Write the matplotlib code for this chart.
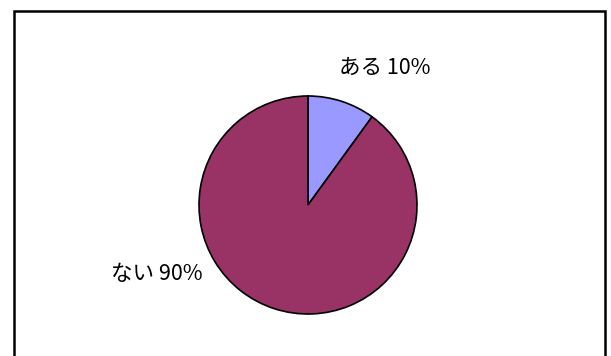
import matplotlib
matplotlib.use("Agg")
from matplotlib import pyplot as plt
from matplotlib.patches import Rectangle

plt.rcParams['font.family'] = ['Noto Sans CJK JP', 'DejaVu Sans']

# data
categories = ["ある", "ない"]
values = [10, 90]
colors = ["#9999FF", "#993366"]

W, H = 611, 356
fig = plt.figure(figsize=(W / 100, H / 100), dpi=100)
fig.patch.set_facecolor("white")

# axes in pixel units so the pie sits where the reference has it
ax = fig.add_axes([0, 0, 1, 1])

cx, cy, r = 308, H - 205, 109
ax.pie(values, colors=colors, startangle=90, counterclock=False,
       center=(cx, cy), radius=r, frame=True,
       wedgeprops=dict(edgecolor="black", linewidth=1.2))
ax.set_xlim(0, W)
ax.set_ylim(0, H)
ax.axis("off")

# labels, placed like the spreadsheet did
label_pos = [(385, H - 68), (157, H - 274)]
for cat, val, (x, y) in zip(categories, values, label_pos):
    ax.text(x, y, f"{cat} {val}%", ha="center", va="center", fontsize=15.5)

# outer chart border (bottom edge is cut off in the reference)
fig.patches.append(Rectangle((14 / W, -0.1), (605 - 14) / W, (H - 11) / H + 0.1,
                             transform=fig.transFigure, fill=False,
                             edgecolor="black", linewidth=1.8))

plt.savefig("out.png", dpi=100)
